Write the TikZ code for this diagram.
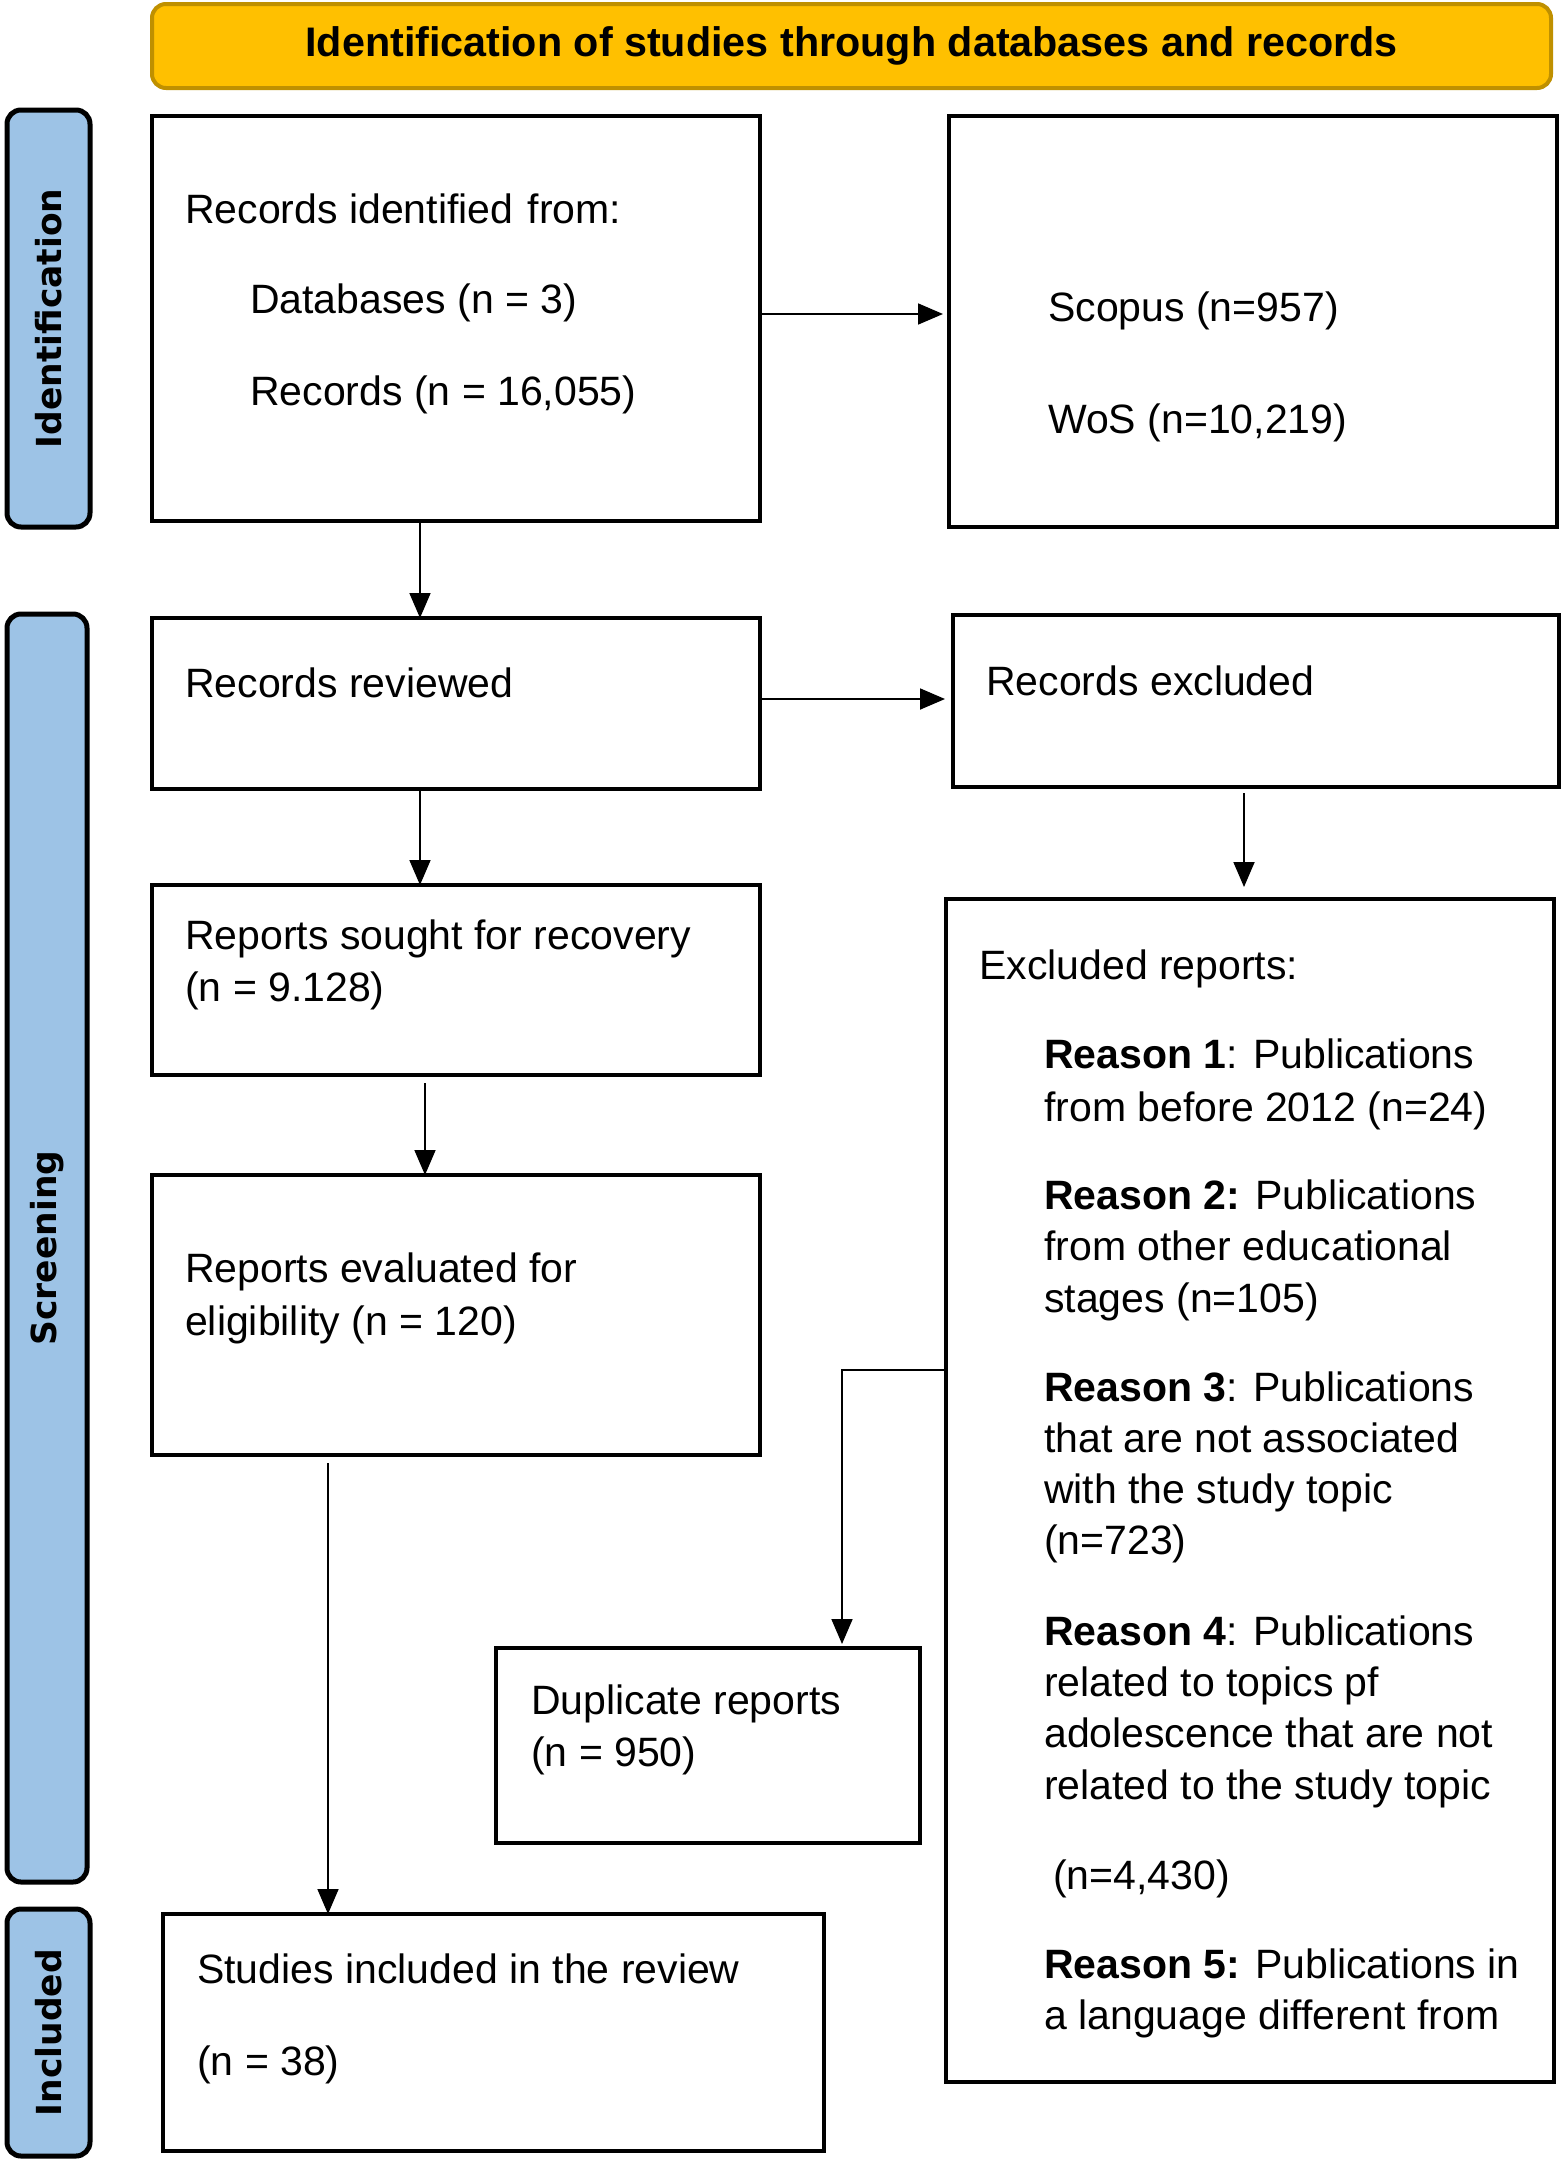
\documentclass[tikz,border=0pt]{standalone}
\usepackage{fontspec}
\setmainfont{Liberation Sans}
\newfontfamily\lblfont{DejaVu Sans}
\usetikzlibrary{arrows.meta}
\definecolor{gold}{HTML}{FFC000}
\definecolor{golddark}{HTML}{BF9000}
\definecolor{sideblue}{HTML}{9DC3E6}
\begin{document}
\begin{tikzpicture}[x=1pt,y=-1pt,
  box/.style={draw=black,line width=4pt,inner sep=0pt,outer sep=0pt},
  side/.style={draw=black,line width=5pt,fill=sideblue,rounded corners=14pt,inner sep=0pt,outer sep=0pt},
  sidetxt/.style={rotate=90,font=\lblfont\bfseries\fontsize{34.5}{40}\selectfont},
  txt/.style={anchor=base west,inner sep=0pt,font=\fontsize{41}{51}\selectfont},
  arr/.style={line width=1.8pt,-{Triangle[length=25pt,width=21pt]}}]
\useasboundingbox (0,0) rectangle (1562,2161);
\fill[white] (0,0) rectangle (1562,2161);

% banner
\node[draw=golddark,line width=4pt,fill=gold,rounded corners=14pt,minimum width=1399pt,minimum height=84pt,inner sep=0pt,
  font=\bfseries\fontsize{41.3}{46}\selectfont] (banner) at (851.5,46) {Identification of studies through databases and records};

% side labels
\node[side,minimum width=83pt,minimum height=417pt] (L1) at (48.5,318.5) {};
\node[sidetxt] (L1t) at (L1.center) {Identification};
\node[side,minimum width=80pt,minimum height=1268pt] (L2) at (47,1248) {};
\node[sidetxt] (L2t) at (L2.center) {Screening};
\node[side,minimum width=83pt,minimum height=247pt] (L3) at (48.5,2032.5) {};
\node[sidetxt] (L3t) at (L3.center) {Included};

% boxes
\node[box,minimum width=608pt,minimum height=405pt] (A) at (456,318.5) {};
\node[box,minimum width=608pt,minimum height=411pt] (B) at (1253,321.5) {};
\node[box,minimum width=608pt,minimum height=171pt] (C) at (456,703.5) {};
\node[box,minimum width=606pt,minimum height=172pt] (D) at (1256,701) {};
\node[box,minimum width=608pt,minimum height=190pt] (E) at (456,980) {};
\node[box,minimum width=608pt,minimum height=1183pt] (F) at (1250,1490.5) {};
\node[box,minimum width=608pt,minimum height=280pt] (G) at (456,1315) {};
\node[box,minimum width=424pt,minimum height=195pt] (H) at (708,1745.5) {};
\node[box,minimum width=661pt,minimum height=237pt] (I) at (493.5,2032.5) {};

% texts
\node[txt] (a1) at (185,223) {Records identified\hspace{0.35em}from:};
\node[txt] (a2) at (250,313) {Databases (n = 3)};
\node[txt] (a3) at (250,405) {Records (n = 16,055)};
\node[txt] (b1) at (1048,321) {Scopus (n=957)};
\node[txt] (b2) at (1048,433) {WoS (n=10,219)};
\node[txt] (c1) at (185,697) {Records reviewed};
\node[txt] (d1) at (986,695) {Records excluded};
\node[txt] (e1) at (185,949) {Reports sought for recovery};
\node[txt] (e2) at (185,1001) {(n = 9.128)};
\node[txt] (g1) at (185,1282) {Reports evaluated for};
\node[txt] (g2) at (185,1335) {eligibility (n = 120)};
\node[txt] (h1) at (531,1714) {Duplicate reports};
\node[txt] (h2) at (531,1766) {(n = 950)};
\node[txt] (i1) at (197,1983) {Studies included in the review};
\node[txt] (i2) at (197,2075) {(n = 38)};

\node[txt] (f0) at (979,979) {Excluded reports:};
\node[txt] (f1) at (1044,1068.5) {\textbf{Reason 1}: Publications};
\node[txt] (f2) at (1044,1121) {from before 2012 (n=24)};
\node[txt] (f3) at (1044,1209) {\textbf{Reason 2:} Publications};
\node[txt] (f4) at (1044,1260) {from other educational};
\node[txt] (f5) at (1044,1312.5) {stages (n=105)};
\node[txt] (f6) at (1044,1401) {\textbf{Reason 3}: Publications};
\node[txt] (f7) at (1044,1452) {that are not associated};
\node[txt] (f8) at (1044,1503) {with the study topic};
\node[txt] (f9) at (1044,1554) {(n=723)};
\node[txt] (f10) at (1044,1645) {\textbf{Reason 4}: Publications};
\node[txt] (f11) at (1044,1696) {related to topics pf};
\node[txt] (f12) at (1044,1747) {adolescence that are not};
\node[txt] (f13) at (1044,1799) {related to the study topic};
\node[txt] (f14) at (1053,1889) {(n=4,430)};
\node[txt] (f15) at (1044,1978) {\textbf{Reason 5:} Publications in};
\node[txt] (f16) at (1044,2029) {a language different from};

% connectors
\draw[arr] ([yshift=4.5pt]A.east) -- ([yshift=4.5pt,xshift=-6pt]A.east -| B.west);
\draw[arr] ([yshift=4.5pt]C.east) -- ([yshift=4.5pt,xshift=-8pt]C.east -| D.west);
\draw[arr] ([xshift=-36pt]A.south) -- ([xshift=-36pt]A.south |- C.north);
\draw[arr] ([xshift=-36pt]C.south) -- ([xshift=-36pt]C.south |- E.north);
\draw[arr] ([xshift=-31pt,yshift=-8pt]E.south) -- ([xshift=-31pt]E.south |- G.north);
\draw[arr] ([xshift=-128pt,yshift=-8pt]G.south) -- ([xshift=-128pt]G.south |- I.north);
\draw[arr] ([xshift=-12pt,yshift=-6pt]D.south) -- ([xshift=-12pt,yshift=12pt]D.south |- F.north);
\draw[arr] ([yshift=120.5pt]F.west) -| ([xshift=134pt,yshift=4pt]H.north);
\end{tikzpicture}
\end{document}
